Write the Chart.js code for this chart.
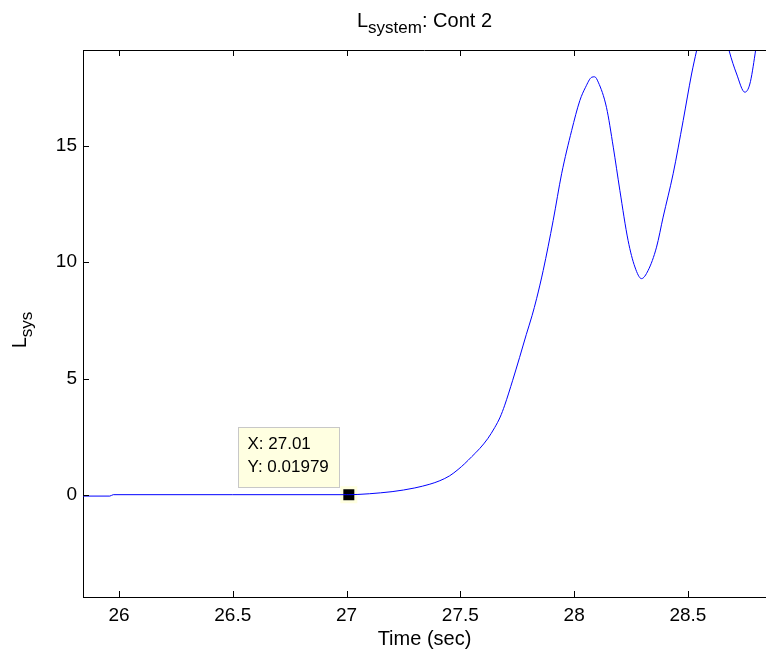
<!DOCTYPE html>
<html>
<head>
<meta charset="utf-8">
<script src="https://cdn.jsdelivr.net/npm/chart.js@4"></script>
<style>
  html, body { margin: 0; padding: 0; background: #fff; }
  #wrap { width: 766px; height: 656px; position: relative; }
</style>
</head>
<body>
<div id="wrap"><canvas id="c" width="766" height="656"></canvas></div>
<script>
// ---- data ----
const timeSec = [25.842, 25.96, 25.975, 26.5, 27.0, 27.01, 27.05, 27.1, 27.15, 27.2, 27.25, 27.3, 27.366, 27.41, 27.453, 27.49, 27.519, 27.55, 27.585, 27.62, 27.651, 27.675, 27.695, 27.73, 27.76, 27.79, 27.815, 27.835, 27.864, 27.908, 27.945, 27.989, 28.025, 28.05, 28.077, 28.09, 28.106, 28.142, 28.172, 28.201, 28.237, 28.267, 28.296, 28.325, 28.362, 28.391, 28.435, 28.479, 28.516, 28.538, 28.56, 28.6, 28.64, 28.681, 28.714, 28.75, 28.772, 28.795, 28.81, 28.843];
const lsys = [-0.04, -0.04, 0.02, 0.02, 0.02, 0.0198, 0.03, 0.06, 0.1, 0.15, 0.22, 0.31, 0.47, 0.62, 0.83, 1.1, 1.35, 1.65, 2.0, 2.42, 2.9, 3.35, 3.86, 4.93, 5.9, 6.9, 7.7, 8.43, 9.64, 11.79, 13.79, 15.64, 16.93, 17.5, 17.93, 17.95, 17.72, 16.64, 14.93, 13.07, 10.93, 9.79, 9.29, 9.64, 10.64, 11.93, 13.79, 16.07, 18.07, 19.07, 20.0, 21.0, 20.8, 19.07, 18.07, 17.29, 17.64, 18.93, 20.0, 22.0];
const xTicks = [26, 26.5, 27, 27.5, 28, 28.5];
const yTicks = [0, 5, 10, 15];
const markerX = [27.01];
const markerY = [0.01979];
const markerLabels = ["X: 27.01", "Y: 0.01979"];
const titleMain = "L", titleSub = "system", titleRest = ": Cont 2";
const yLabelMain = "L", yLabelSub = "sys";
const xLabel = "Time (sec)";

const FONT = '"Liberation Sans", Arial, sans-serif';

const decorPlugin = {
  id: 'decor',
  afterDatasetsDraw(chart) {
    const ctx = chart.ctx;
    const a = chart.chartArea;
    const xs = chart.scales.x, ys = chart.scales.y;
    ctx.save();
    ctx.strokeStyle = '#000';
    ctx.lineWidth = 1;
    ctx.beginPath();
    ctx.moveTo(a.left, a.top + 0.5);
    ctx.lineTo(a.right, a.top + 0.5);
    ctx.stroke();
    ctx.beginPath();
    xTicks.forEach(v => {
      const px = Math.round(xs.getPixelForValue(v)) + 0.5;
      ctx.moveTo(px, a.bottom); ctx.lineTo(px, a.bottom - 6);
      ctx.moveTo(px, a.top); ctx.lineTo(px, a.top + 6);
    });
    yTicks.forEach(v => {
      const py = Math.round(ys.getPixelForValue(v)) + 0.5;
      ctx.moveTo(a.left, py); ctx.lineTo(a.left + 6, py);
    });
    ctx.stroke();

    const mx = xs.getPixelForValue(markerX[0]);
    const my = ys.getPixelForValue(markerY[0]);
    const bx = Math.round(mx - 111) + 0.5, by = Math.round(my - 68) + 0.5;
    ctx.fillStyle = '#ffffe1';
    ctx.strokeStyle = '#c8c8c8';
    ctx.fillRect(bx, by, 101, 60);
    ctx.strokeRect(bx, by, 101, 60);
    ctx.fillStyle = '#000';
    ctx.font = '17px ' + FONT;
    ctx.textBaseline = 'middle';
    ctx.textAlign = 'left';
    ctx.fillText(markerLabels[0], bx + 9, by + 17);
    ctx.fillText(markerLabels[1], bx + 9, by + 39.5);
    ctx.restore();
  },
  afterDraw(chart) {
    const ctx = chart.ctx;
    const a = chart.chartArea;
    ctx.save();
    ctx.fillStyle = '#000';
    ctx.textBaseline = 'alphabetic';
    const big = '20px ' + FONT, small = '17px ' + FONT;
    ctx.font = big; const w1 = ctx.measureText(titleMain).width;
    ctx.font = small; const w2 = ctx.measureText(titleSub).width;
    ctx.font = big; const w3 = ctx.measureText(titleRest).width;
    let tx = (a.left + a.right) / 2 - (w1 + w2 + w3) / 2;
    const ty = 27;
    ctx.textAlign = 'left';
    ctx.font = big; ctx.fillText(titleMain, tx, ty); tx += w1;
    ctx.font = small; ctx.fillText(titleSub, tx, ty + 6); tx += w2;
    ctx.font = big; ctx.fillText(titleRest, tx, ty);
    ctx.font = big;
    ctx.textAlign = 'center';
    ctx.fillText(xLabel, (a.left + a.right) / 2, 645);
    ctx.save();
    ctx.translate(26, 330);
    ctx.rotate(-Math.PI / 2);
    ctx.font = big; const l1 = ctx.measureText(yLabelMain).width;
    ctx.font = small; const l2 = ctx.measureText(yLabelSub).width;
    let lx = -(l1 + l2) / 2;
    ctx.textAlign = 'left';
    ctx.font = big; ctx.fillText(yLabelMain, lx, 0); lx += l1;
    ctx.font = small; ctx.fillText(yLabelSub, lx, 6);
    ctx.restore();
    ctx.restore();
  }
};

new Chart(document.getElementById('c'), {
  type: 'line',
  data: {
    datasets: [
      {
        data: timeSec.map((t, i) => ({ x: t, y: lsys[i] })),
        borderColor: '#0000ff',
        borderWidth: 1,
        pointRadius: 0,
        cubicInterpolationMode: 'monotone',
        fill: false
      },
      {
        data: markerX.map((t, i) => ({ x: t, y: markerY[i] })),
        showLine: false,
        pointStyle: 'rect',
        pointRadius: 9.9,
        pointBackgroundColor: '#000',
        pointBorderColor: '#ffffe0',
        pointBorderWidth: 3,
        clip: false
      }
    ]
  },
  options: {
    responsive: false,
    animation: false,
    events: [],
    layout: { autoPadding: false, padding: { top: 50, right: 0, left: 0, bottom: 0 } },
    plugins: { legend: { display: false }, tooltip: { enabled: false }, title: { display: false } },
    scales: {
      x: {
        type: 'linear',
        min: 25.842, max: 28.843,
        afterBuildTicks: s => { s.ticks = xTicks.map(v => ({ value: v })); },
        afterFit: s => { s.height = 59; s.paddingLeft = 0; s.paddingRight = 0; },
        grid: { display: false, drawTicks: false },
        border: { display: true, color: '#000', width: 1 },
        ticks: { color: '#000', font: { family: FONT, size: 19 }, padding: 7, maxRotation: 0, autoSkip: false,
                 callback: v => String(v) }
      },
      y: {
        type: 'linear',
        min: -4.37, max: 19.1,
        afterBuildTicks: s => { s.ticks = yTicks.map(v => ({ value: v })); },
        afterFit: s => { s.width = 83; s.paddingTop = 0; s.paddingBottom = 0; },
        grid: { display: false, drawTicks: false },
        border: { display: true, color: '#000', width: 1 },
        ticks: { color: '#000', font: { family: FONT, size: 19 }, padding: 6, autoSkip: false,
                 callback: v => String(v) }
      }
    }
  },
  plugins: [decorPlugin]
});
</script>
</body>
</html>
